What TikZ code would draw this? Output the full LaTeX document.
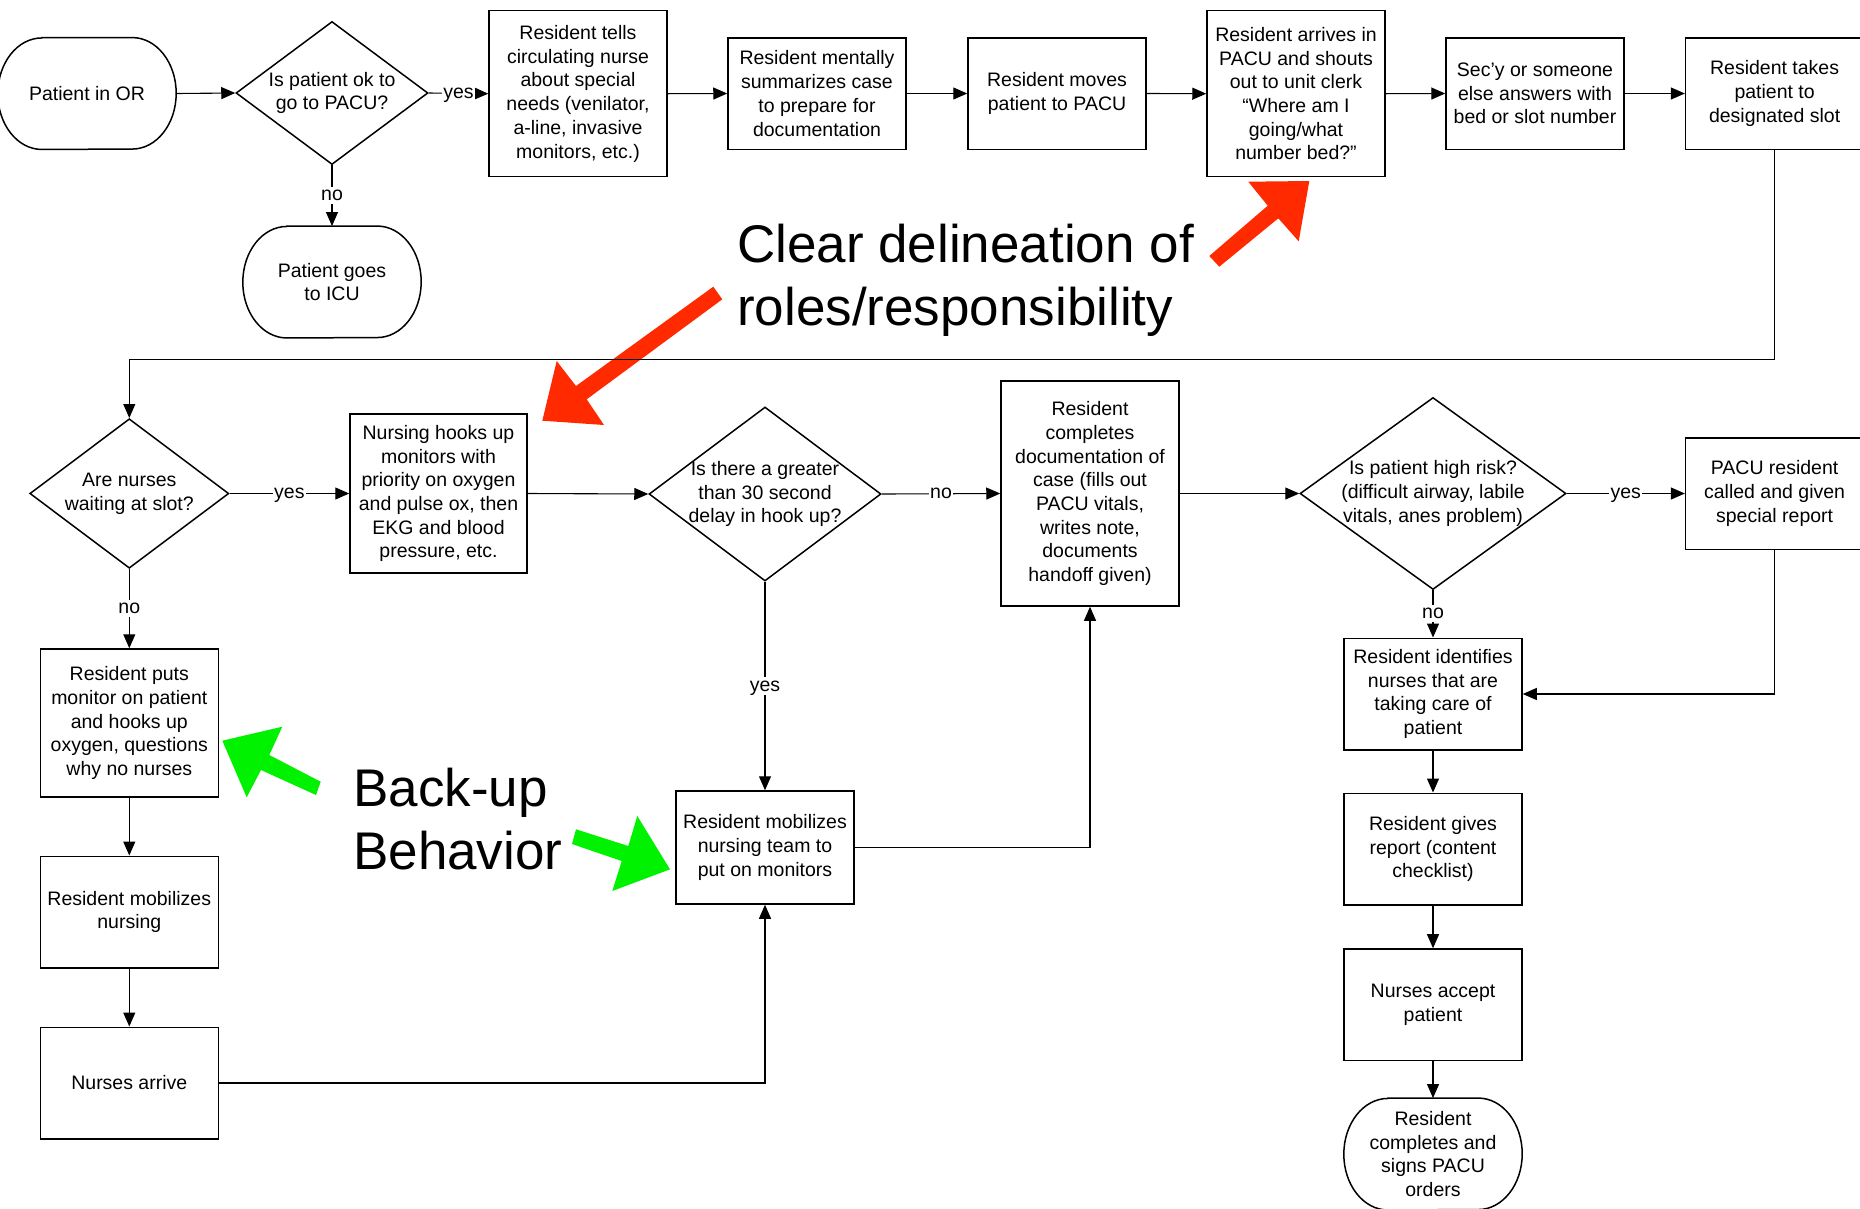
\documentclass[tikz,border=0pt]{standalone}
\usepackage{fontspec}
\setmainfont{Liberation Sans}
\usetikzlibrary{arrows.meta,shapes.geometric,calc}
\definecolor{annred}{RGB}{255,42,0}
\definecolor{anngreen}{RGB}{0,242,0}
\newcommand\boxfont{\fontsize{19.5}{23.7}\selectfont}
\newcommand\bigfont{\fontsize{53}{63}\selectfont}
\newcommand\termoutline[1]{%
  \draw[line width=1.5pt] ([xshift=44pt]#1.north west) -- ([xshift=-44pt]#1.north east)
    arc[start angle=90,end angle=-90,x radius=44pt,y radius=55.75pt]
    -- ([xshift=44pt]#1.south west)
    arc[start angle=270,end angle=90,x radius=44pt,y radius=55.75pt] -- cycle;}
\tikzset{
  box/.style={draw, line width=1.5pt, minimum width=178pt, inner sep=0pt, align=center, font=\boxfont},
  dia/.style={draw, diamond, line width=1.5pt, inner sep=0pt},
  term/.style={minimum width=178pt, minimum height=111.5pt, inner sep=0pt, align=center, font=\boxfont},
  txt/.style={align=center, inner sep=0pt, font=\boxfont},
  conn/.style={line width=1.1pt, -{Triangle[length=14pt,width=12pt]}},
  lbl/.style={fill=white, inner xsep=1.5pt, inner ysep=3.5pt, text height=10.2pt, text depth=0pt, font=\boxfont},
  big/.style={anchor=base west, inner sep=0pt, font=\bigfont},
}
\begin{document}
\begin{tikzpicture}[x=1pt,y=-1pt]
\useasboundingbox (0,0) rectangle (1860,1208);

% ---------- row 1 ----------
\node[term] (pator) at (87,93.5) {Patient in OR};
\termoutline{pator}
\node[dia, minimum width=192pt, minimum height=143pt] (d1) at (332,93) {};
\node[txt] (d1t) at (d1) {Is patient ok to\\go to PACU?};
\node[box, minimum height=166pt] (tells) at (578,93.7) {Resident tells\\circulating nurse\\about special\\needs (venilator,\\a-line, invasive\\monitors, etc.)};
\node[box, minimum height=111.5pt] (mental) at (817,93.5) {Resident mentally\\summarizes case\\to prepare for\\documentation};
\node[box, minimum height=111.5pt] (moves) at (1057,93.5) {Resident moves\\patient to PACU};
\node[box, minimum height=166pt] (arrives) at (1296,93.7) {Resident arrives in\\PACU and shouts\\out to unit clerk\\“Where am I\\going/what\\number bed?”};
\node[box, minimum height=111.5pt] (secy) at (1535,93.5) {Sec’y or someone\\else answers with\\bed or slot number};
\node[box, minimum height=111.5pt] (takes) at (1774.6,93.5) {Resident takes\\patient to\\designated slot};
\node[term] (icu) at (332,282) {Patient goes\\to ICU};
\termoutline{icu}

% ---------- row 2 ----------
\node[dia, minimum width=199pt, minimum height=149.5pt] (d2) at (129.3,493.5) {};
\node[txt] (d2t) at (d2) {Are nurses\\waiting at slot?};
\node[box, minimum width=177pt, minimum height=159pt] (hooks) at (438.5,493.5) {Nursing hooks up\\monitors with\\priority on oxygen\\and pulse ox, then\\EKG and blood\\pressure, etc.};
\node[dia, minimum width=232pt, minimum height=174pt] (d3) at (765,494) {};
\node[txt] (d3t) at (d3) {Is there a greater\\than 30 second\\delay in hook up?};
\node[box, minimum height=225pt] (doc) at (1090,493.5) {Resident\\completes\\documentation of\\case (fills out\\PACU vitals,\\writes note,\\documents\\handoff given)};
\node[dia, minimum width=266pt, minimum height=192pt] (d4) at (1433,493.5) {};
\node[txt] (d4t) at (d4) {Is patient high risk?\\(difficult airway, labile\\vitals, anes problem)};
\node[box, minimum height=111.5pt] (pacu) at (1774.6,493.5) {PACU resident\\called and given\\special report};

% ---------- lower left ----------
\node[box, minimum height=148pt] (puts) at (129.3,723) {Resident puts\\monitor on patient\\and hooks up\\oxygen, questions\\why no nurses};
\node[box, minimum height=111.5pt] (mobn) at (129.3,912) {Resident mobilizes\\nursing};
\node[box, minimum height=111.5pt] (arrive) at (129.3,1083) {Nurses arrive};
\node[box, minimum height=113pt] (team) at (765,847.5) {Resident mobilizes\\nursing team to\\put on monitors};

% ---------- lower right ----------
\node[box, minimum height=111.5pt] (ident) at (1433,694) {Resident identifies\\nurses that are\\taking care of\\patient};
\node[box, minimum height=111.5pt] (gives) at (1433,849) {Resident gives\\report (content\\checklist)};
\node[box, minimum height=111.5pt] (accept) at (1433,1004.7) {Nurses accept\\patient};
\node[term] (final) at (1433,1154) {Resident\\completes and\\signs PACU\\orders};
\termoutline{final}

% ---------- annotation arrows ----------
\fill[annred] (1209.3,256) -- (1267.7,205.7) -- (1248.3,181.7) -- (1309.3,181) -- (1298.7,241.3) -- (1278.3,218.3) -- (1219.3,266.7) -- cycle;
\fill[annred] (713.3,286.7) -- (722.3,299.3) -- (586.7,399.3) -- (604,425) -- (542.3,420.7) -- (556.7,361) -- (576,386) -- cycle;
\fill[anngreen] (222.3,740.7) -- (282.3,726.7) -- (269.3,755) -- (320.7,781.7) -- (316,795) -- (261,770) -- (246.7,797.3) -- cycle;
\fill[anngreen] (576,829.3) -- (628.3,846) -- (637.3,816) -- (670,869.3) -- (612.3,891) -- (621.7,861) -- (572,844) -- cycle;

% ---------- annotation texts ----------
\node[big] (clear1) at (737,262) {Clear delineation of};
\node[big] (clear2) at (737,325) {roles/responsibility};
\node[big] (back1) at (353,806.6) {Back-up};
\node[big] (back2) at (353,869.5) {Behavior};

% ---------- connectors ----------
\draw[conn] (pator.east) -- (d1.west);
\draw[conn] (d1.east) -- node[lbl] {yes} (tells.west);
\draw[conn] (d1.south) -- node[lbl] {no} (icu.north);
\draw[conn] (tells.east) -- (mental.west);
\draw[conn] (mental.east) -- (moves.west);
\draw[conn] (moves.east) -- (arrives.west);
\draw[conn] (arrives.east) -- (secy.west);
\draw[conn] (secy.east) -- (takes.west);
\coordinate (bend) at (900,359.4);
\draw[conn] (takes.south) |- (bend) -| (d2.north);
\draw[conn] (d2.east) -- node[lbl] {yes} (hooks.west);
\draw[conn] (hooks.east) -- (d3.west);
\draw[conn] (d3.east) -- node[lbl] {no} (doc.west);
\draw[conn] (doc.east) -- (d4.west);
\draw[conn] (d4.east) -- node[lbl] {yes} (pacu.west);
\draw[conn] (d2.south) -- node[lbl] {no} (puts.north);
\draw[conn] (puts.south) -- (mobn.north);
\draw[conn] (mobn.south) -- (arrive.north);
\draw[conn] (arrive.east) -| (team.south);
\draw[conn] (d3.south) -- node[lbl] {yes} (team.north);
\draw[conn] (team.east) -| (doc.south);
\draw[conn] (d4.south) -- node[lbl] {no} (ident.north);
\draw[conn] (pacu.south) |- (ident.east);
\draw[conn] (ident.south) -- (gives.north);
\draw[conn] (gives.south) -- (accept.north);
\draw[conn] (accept.south) -- (final.north);
\end{tikzpicture}
\end{document}
